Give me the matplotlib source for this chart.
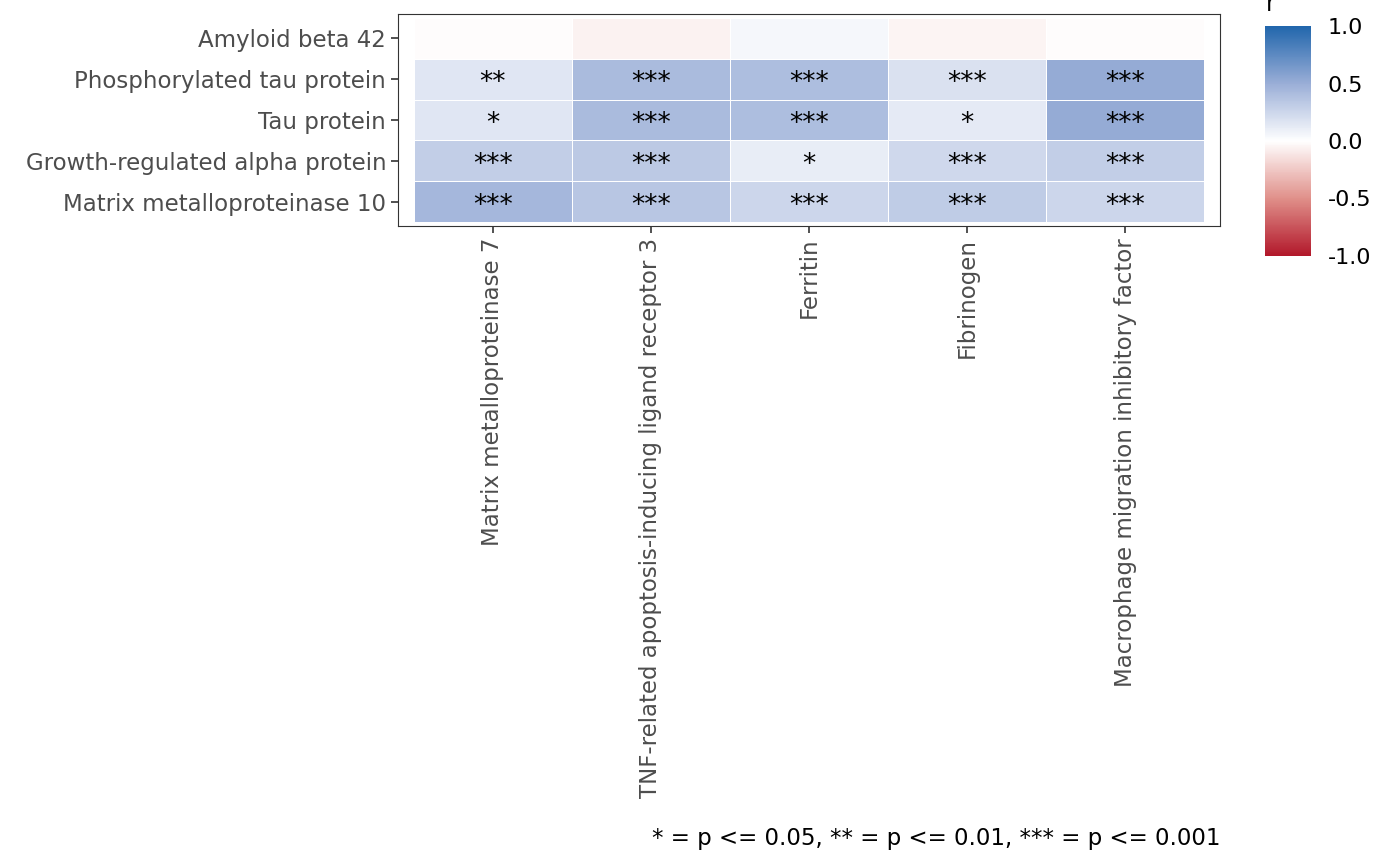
import numpy as np
import matplotlib.pyplot as plt
from matplotlib.colors import LinearSegmentedColormap

rows = ["Amyloid beta 42", "Phosphorylated tau protein", "Tau protein",
        "Growth-regulated alpha protein", "Matrix metalloproteinase 10"]
cols = ["Matrix metalloproteinase 7", "TNF-related apoptosis-inducing ligand receptor 3",
        "Ferritin", "Fibrinogen", "Macrophage migration inhibitory factor"]
r_values = [[-0.01, -0.06, 0.05, -0.05, -0.01],
            [0.15, 0.42, 0.40, 0.18, 0.52],
            [0.15, 0.42, 0.40, 0.13, 0.52],
            [0.30, 0.33, 0.11, 0.24, 0.30],
            [0.44, 0.35, 0.25, 0.32, 0.25]]
stars = [["", "", "", "", ""],
         ["**", "***", "***", "***", "***"],
         ["*", "***", "***", "*", "***"],
         ["***", "***", "*", "***", "***"],
         ["***", "***", "***", "***", "***"]]

cmap = LinearSegmentedColormap.from_list(
    "rdbu", [(0, "#B2182B"), (0.25, "#E0908A"), (0.5, "#FFFFFF"),
             (0.75, "#9AAED7"), (1, "#2166AC")])
vals = np.array(r_values)
nr, nc = vals.shape

fig = plt.figure(figsize=(14, 8.66), dpi=100)
ax = fig.add_axes([398/1400, 1-226/866, (1220-398)/1400, (226-14)/866])
ax.pcolormesh(np.arange(nc+1)-0.5, np.arange(nr+1)-0.5, vals, cmap=cmap,
              vmin=-1, vmax=1, edgecolor="white", linewidth=0.5)
for i in range(nr):
    for j in range(nc):
        if stars[i][j]:
            ax.text(j, i + 0.1, stars[i][j], ha="center", va="center", fontsize=19, color="black")
ax.set_xlim(-0.6, nc-0.4)
ax.set_ylim(nr-0.4, -0.6)
ax.set_xticks(range(nc))
ax.set_xticklabels(cols, rotation=90, fontsize=16.5, color="#4D4D4D")
ax.set_yticks(range(nr))
ax.set_yticklabels(rows, fontsize=16.5, color="#4D4D4D")
ax.tick_params(length=5, width=1.2, color="#333333")
for s in ax.spines.values():
    s.set_color("#333333")
    s.set_linewidth(0.8)

sm = plt.cm.ScalarMappable(cmap=cmap, norm=plt.Normalize(-1, 1))
cax = fig.add_axes([1265/1400, 1-256/866, 46/1400, 230/866])
cb = fig.colorbar(sm, cax=cax, ticks=[-1, -0.5, 0, 0.5, 1])
cb.ax.set_yticklabels(["-1.0", "-0.5", "0.0", "0.5", "1.0"], fontsize=16)
cb.outline.set_visible(False)
cb.ax.tick_params(length=0, pad=12)
fig.text(1266/1400, 1-4/866, "r", fontsize=17, va="center")

fig.text(1220/1400, 1-838/866, "* = p <= 0.05, ** = p <= 0.01, *** = p <= 0.001",
         ha="right", va="center", fontsize=16.5)
fig.savefig("out.png", dpi=100)
